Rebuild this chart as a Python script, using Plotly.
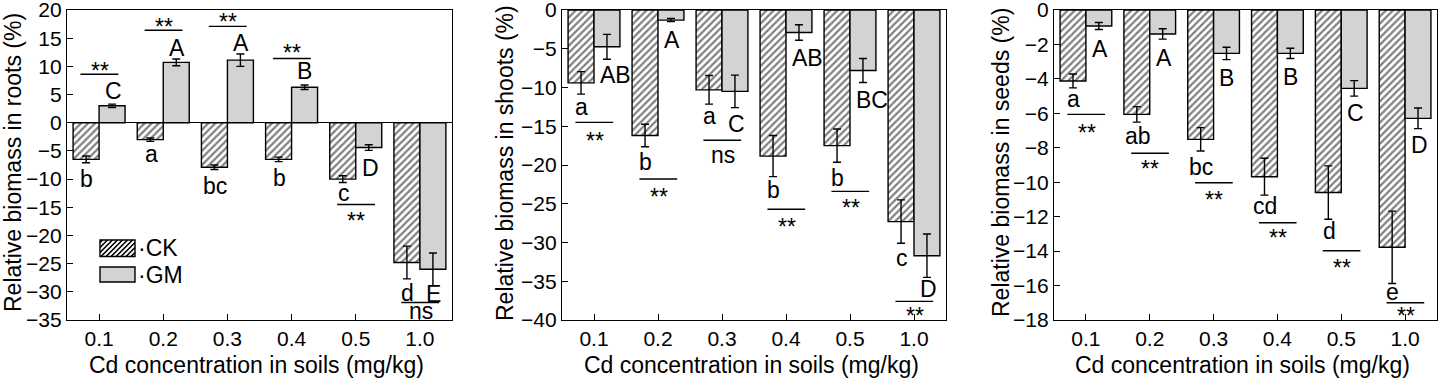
import plotly.graph_objects as go
from plotly.subplots import make_subplots

# ---------------- data ----------------
cats = ["0.1", "0.2", "0.3", "0.4", "0.5", "1.0"]

roots_ck = [-6.5, -3.0, -7.9, -6.5, -10.0, -24.8]
roots_ck_err = [0.6, 0.3, 0.4, 0.4, 0.6, 2.9]
roots_gm = [3.0, 10.7, 11.1, 6.3, -4.4, -26.0]
roots_gm_err = [0.3, 0.6, 1.1, 0.4, 0.5, 2.9]

shoots_ck = [-9.4, -16.2, -10.3, -18.85, -17.5, -27.3]
shoots_ck_err = [1.45, 1.45, 1.85, 2.65, 2.15, 2.8]
shoots_gm = [-4.75, -1.3, -10.5, -2.9, -7.8, -31.7]
shoots_gm_err = [1.6, 0.2, 2.1, 1.0, 1.55, 2.8]

seeds_ck = [-4.12, -6.06, -7.51, -9.68, -10.6, -13.78]
seeds_ck_err = [0.4, 0.45, 0.68, 1.07, 1.55, 2.1]
seeds_gm = [-0.93, -1.39, -2.52, -2.52, -4.55, -6.29]
seeds_gm_err = [0.2, 0.3, 0.36, 0.3, 0.45, 0.6]

roots_ck_letters = ["b", "a", "bc", "b", "c", "d"]
roots_gm_letters = ["C", "A", "A", "B", "D", "E"]
roots_sig = ["**", "**", "**", "**", "**", "ns"]

shoots_ck_letters = ["a", "b", "a", "b", "b", "c"]
shoots_gm_letters = ["AB", "A", "C", "AB", "BC", "D"]
shoots_sig = ["**", "**", "ns", "**", "**", "**"]

seeds_ck_letters = ["a", "ab", "bc", "cd", "d", "e"]
seeds_gm_letters = ["A", "A", "B", "B", "C", "D"]
seeds_sig = ["**", "**", "**", "**", "**", "**"]

# label placements (data units, text centres)
roots_ck_lab_y = [-10.2, -5.7, -11.4, -9.9, -12.6, -30.4]
roots_gm_lab_y = [5.6, 13.3, 14.2, 9.2, -8.1, -30.4]
roots_line_y = [8.6, 16.4, 17.1, 11.4, -14.5, -31.9]
roots_sig_y = [10.1, 17.9, 18.7, 13.3, -16.6, -33.5]

shoots_ck_lab_y = [-12.6, -19.8, -13.8, -23.3, -21.8, -32.1]
shoots_gm_lab_y = [-8.4, -3.9, -14.7, -6.25, -11.6, -36.0]
shoots_line_y = [-14.5, -21.8, -16.8, -25.7, -23.4, -37.6]
shoots_sig_y = [-16.3, -23.5, -18.8, -27.4, -24.9, -38.9]

seeds_ck_lab_y = [-5.23, -7.4, -9.19, -11.42, -12.87, -16.45]
seeds_gm_lab_y = [-2.28, -2.8, -3.97, -3.91, -5.96, -7.84]
seeds_line_y = [-6.06, -8.32, -10.03, -12.35, -13.98, -17.0]
seeds_sig_y = [-6.87, -8.96, -10.74, -12.97, -14.71, -17.48]

y_titles = ["Relative biomass in roots (%)",
            "Relative biomass in shoots (%)",
            "Relative biomass in seeds (%)"]
x_title = "Cd concentration in soils (mg/kg)"

# ---------------- layout constants ----------------
W, H = 1440, 382
FONT = "Liberation Sans, Arial, sans-serif"
x_doms = [(67, 452), (562, 946), (1054, 1437)]
y_top, y_bot = 10, 320
y_ranges = [(-35, 20, 5), (-40, 0, 5), (-18, 0, 2)]
y_title_x = [13, 505, 1001]

panels = [
    (roots_ck, roots_ck_err, roots_gm, roots_gm_err, roots_ck_letters, roots_gm_letters,
     roots_sig, roots_ck_lab_y, roots_gm_lab_y, roots_line_y, roots_sig_y),
    (shoots_ck, shoots_ck_err, shoots_gm, shoots_gm_err, shoots_ck_letters, shoots_gm_letters,
     shoots_sig, shoots_ck_lab_y, shoots_gm_lab_y, shoots_line_y, shoots_sig_y),
    (seeds_ck, seeds_ck_err, seeds_gm, seeds_gm_err, seeds_ck_letters, seeds_gm_letters,
     seeds_sig, seeds_ck_lab_y, seeds_gm_lab_y, seeds_line_y, seeds_sig_y),
]

fig = make_subplots(rows=1, cols=3)
annotations = []
shapes = []
LBL = 23

for k, (ck, cke, gm, gme, ckl, gml, sig, ckly, gmly, liney, sigy) in enumerate(panels):
    col = k + 1
    fig.add_trace(go.Bar(
        x=cats, y=ck, name="CK", showlegend=False,
        marker=dict(color="white", line=dict(color="black", width=1.4),
                    pattern=dict(shape="/", fgcolor="black", bgcolor="white", size=5, solidity=0.45)),
        error_y=dict(type="data", array=cke, color="black", thickness=1.4, width=4),
    ), row=1, col=col)
    fig.add_trace(go.Bar(
        x=cats, y=gm, name="GM", showlegend=False,
        marker=dict(color="#d3d3d3", line=dict(color="black", width=1.4)),
        error_y=dict(type="data", array=gme, color="black", thickness=1.4, width=4),
    ), row=1, col=col)

    xa = "x" if k == 0 else f"x{col}"
    ya = "y" if k == 0 else f"y{col}"
    for i in range(len(cats)):
        annotations.append(dict(x=i - 0.19, y=ckly[i], xref=xa, yref=ya, text=ckl[i],
                                showarrow=False, font=dict(family=FONT, size=LBL, color="black"),
                                xanchor="center", yanchor="middle", yshift=1))
        annotations.append(dict(x=i + 0.06, y=gmly[i], xref=xa, yref=ya, text=gml[i],
                                showarrow=False, font=dict(family=FONT, size=LBL, color="black"),
                                xanchor="left", yanchor="middle"))
        annotations.append(dict(x=i + 0.01, y=sigy[i], xref=xa, yref=ya, text=sig[i],
                                showarrow=False, font=dict(family=FONT, size=LBL, color="black"),
                                xanchor="center", yanchor="middle",
                                yshift=-5 if sig[i] == "**" else 1))
        shapes.append(dict(type="line", xref=xa, yref=ya, x0=i - 0.29, x1=i + 0.3,
                           y0=liney[i], y1=liney[i], line=dict(color="black", width=1.4)))

    lo, hi, dt = y_ranges[k]
    x0p, x1p = x_doms[k]
    fig.update_xaxes(row=1, col=col, type="category", range=[-0.5, 5.5],
                     domain=[x0p / W, x1p / W], showline=True, mirror=True,
                     linecolor="black", linewidth=1.4, ticks="inside", ticklen=6,
                     tickwidth=1.4, tickcolor="black", showgrid=False, zeroline=False,
                     tickfont=dict(family=FONT, size=21, color="black"), automargin=False,
                     ticklabeloverflow="allow")
    fig.update_yaxes(row=1, col=col, range=[lo, hi], dtick=dt, tick0=0,
                     domain=[1 - y_bot / H, 1 - y_top / H], showline=True, mirror=True,
                     linecolor="black", linewidth=1.4, ticks="inside", ticklen=6,
                     tickwidth=1.4, tickcolor="black", showgrid=False,
                     zeroline=(k == 0), zerolinecolor="black", zerolinewidth=1.4,
                     tickfont=dict(family=FONT, size=21, color="black"), automargin=False,
                     ticklabeloverflow="allow")

    # axis titles
    annotations.append(dict(x=(x0p + x1p) / 2 / W - 3 / W, y=1 - 365 / H, xref="paper", yref="paper",
                            text=x_title, showarrow=False, xanchor="center", yanchor="middle",
                            font=dict(family=FONT, size=23, color="black")))
    annotations.append(dict(x=y_title_x[k] / W, y=1 - 163 / H, xref="paper", yref="paper",
                            text=y_titles[k], showarrow=False, textangle=-90,
                            xanchor="center", yanchor="middle",
                            font=dict(family=FONT, size=23, color="black")))

# ---------------- manual legend (panel 1) ----------------
def px2paper(px, py):
    return px / W, 1 - py / H

def hatch_path(x0, y0, x1, y1, step):
    segs = []
    c = x0 + y0 + step / 2
    while c < x1 + y1:
        xa_ = max(x0, c - y1)
        xb_ = min(x1, c - y0)
        if xb_ > xa_:
            p0 = px2paper(xa_, c - xa_)
            p1 = px2paper(xb_, c - xb_)
            segs.append(f"M{p0[0]:.5f},{p0[1]:.5f} L{p1[0]:.5f},{p1[1]:.5f}")
        c += step
    return " ".join(segs)

leg_boxes = [(100, 240, 135, 256.5, "CK"), (100, 267, 135, 282, "GM")]
for (bx0, by0, bx1, by1, lab) in leg_boxes:
    p0 = px2paper(bx0, by1)
    p1 = px2paper(bx1, by0)
    if lab == "CK":
        shapes.append(dict(type="rect", xref="paper", yref="paper", x0=p0[0], y0=p0[1],
                           x1=p1[0], y1=p1[1], fillcolor="white", line=dict(width=0)))
        shapes.append(dict(type="path", xref="paper", yref="paper",
                           path=hatch_path(bx0, by0, bx1, by1, 5.0),
                           line=dict(color="black", width=1.6)))
        fill = "rgba(0,0,0,0)"
    else:
        fill = "#d3d3d3"
    shapes.append(dict(type="rect", xref="paper", yref="paper", x0=p0[0], y0=p0[1],
                       x1=p1[0], y1=p1[1], fillcolor=fill, line=dict(color="black", width=1.4)))
    tx, ty = px2paper(bx1 + 0.5, (by0 + by1) / 2)
    annotations.append(dict(x=tx, y=ty, xref="paper", yref="paper", text="·" + lab,
                            showarrow=False, xanchor="left", yanchor="middle",
                            font=dict(family=FONT, size=LBL, color="black")))

fig.update_layout(
    width=W, height=H, margin=dict(l=0, r=0, t=0, b=0),
    paper_bgcolor="white", plot_bgcolor="white",
    barmode="group", bargap=0.19, bargroupgap=0,
    showlegend=False, annotations=annotations, shapes=shapes,
    font=dict(family=FONT, color="black"),
)

fig.write_html("out.html", config={"displayModeBar": False},
               post_script="document.body.style.margin='0px';document.body.style.padding='0px';"
                           "document.body.style.overflow='hidden';")
